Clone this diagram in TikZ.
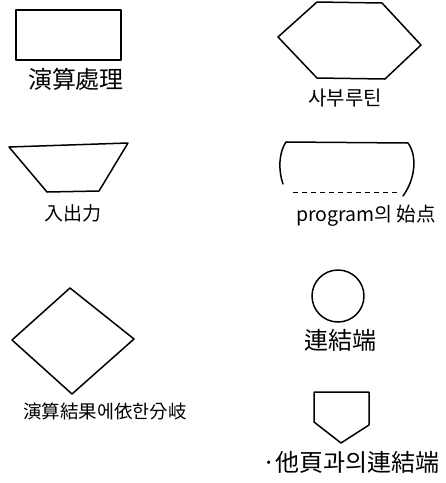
\documentclass[tikz,border=0pt]{standalone}
\usepackage{fontspec}
\setmainfont{Noto Sans CJK KR}
\tikzset{
  shp/.style={draw=black, line width=1.5pt, line join=round, line cap=round},
  lbl/.style={inner sep=0pt, text=black},
}
\begin{document}
\begin{tikzpicture}[x=1pt,y=-1pt]
\useasboundingbox (0,0) rectangle (446,483);
% process rectangle
\draw[shp] (16,10) rectangle (121,60);
\node[lbl, font=\fontsize{24}{26}\selectfont] (t1) at (76,79) {演算處理};
% subroutine hexagon
\draw[shp] (278,37) -- (317,2) -- (382,3) -- (421,45) -- (385,79) -- (317,78) -- cycle;
\node[lbl, font=\fontsize{20}{22}\selectfont] (t2) at (345,98) {사부루틴};
% input/output trapezoid
\draw[shp] (9,147) -- (128,143) -- (99,191) -- (47,192) -- cycle;
\node[lbl, font=\fontsize{19}{21}\selectfont] (t3) at (73,213) {入出力};
% program start
\draw[shp] (286,142) -- (408,143);
\draw[shp] (286,142) .. controls (279,152) and (278,170) .. (283,184);
\draw[shp] (408,143) .. controls (417,155) and (416,178) .. (403,196);
\draw[line width=0.8pt, dash pattern=on 5pt off 4pt] (293,192) -- (397,192);
\node[lbl, font=\fontsize{19.5}{21}\selectfont] (t4) at (366,216) {program의 始点};
% decision diamond
\draw[shp] (70,288) -- (134,339) -- (72,394) -- (12,340) -- cycle;
\node[lbl, font=\fontsize{18.5}{20}\selectfont] (t5) at (105,411) {演算結果에依한分岐};
% connector circle
\draw[shp] (338,296) circle (26);
\node[lbl, font=\fontsize{24}{26}\selectfont] (t6) at (340,340) {連結端};
% off-page connector
\draw[shp] (314,392) -- (369,392) -- (369,425) -- (341,443) -- (314,422) -- cycle;
\node[lbl, anchor=west, font=\fontsize{24}{26}\selectfont] (t7) at (262,462) {·他頁과의連結端};
\end{tikzpicture}
\end{document}
